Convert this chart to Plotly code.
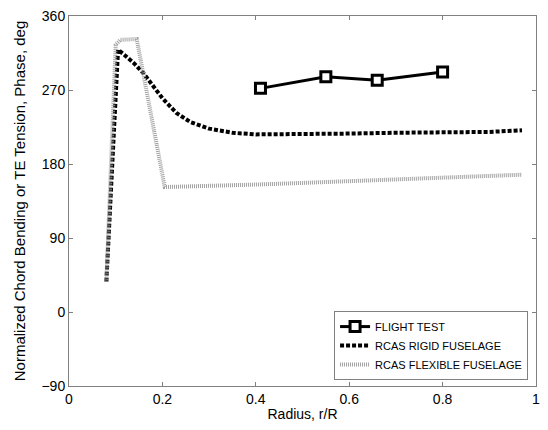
import plotly.graph_objects as go

# Data
flight_r = [0.41, 0.55, 0.66, 0.80]
flight_phase = [272, 286, 282, 292]

rigid_r = [0.08, 0.105, 0.12, 0.14, 0.16, 0.18, 0.20, 0.23, 0.26, 0.30, 0.35, 0.40, 0.45, 0.50, 0.60, 0.70, 0.80, 0.90, 0.97]
rigid_phase = [37, 319, 312, 302, 290, 275, 260, 242, 231, 223, 218, 216, 216, 216, 217, 218, 218, 219, 221]

flex_r = [0.08, 0.10, 0.11, 0.145, 0.205, 0.30, 0.40, 0.50, 0.60, 0.70, 0.80, 0.90, 0.97]
flex_phase = [37, 325, 331, 332, 152, 153, 155, 157, 159, 161, 163, 165, 167]

x_ticks = [0, 0.2, 0.4, 0.6, 0.8, 1]
x_labels = ["0", "0.2", "0.4", "0.6", "0.8", "1"]
y_ticks = [-90, 0, 90, 180, 270, 360]

FONT = "Liberation Sans, Arial"

fig = go.Figure()
fig.add_trace(go.Scatter(
    x=flight_r, y=flight_phase, mode="lines+markers", name="FLIGHT TEST",
    line=dict(color="black", width=3),
    marker=dict(symbol="square", size=10, color="white", line=dict(color="black", width=3)),
))
fig.add_trace(go.Scatter(
    x=rigid_r, y=rigid_phase, mode="lines", name="RCAS RIGID FUSELAGE",
    line=dict(color="black", width=4, dash="4px,2px"),
))
fig.add_trace(go.Scatter(
    x=flex_r, y=flex_phase, mode="lines", name="RCAS FLEXIBLE FUSELAGE",
    line=dict(color="#a0a0a0", width=4, dash="1px,1px"),
))

axis_common = dict(
    showgrid=False, zeroline=False, showline=True, linecolor="#808080", linewidth=1,
    mirror="ticks", ticks="inside", ticklen=4, tickcolor="#808080",
    tickfont=dict(family=FONT, size=14, color="black"),
)
fig.update_xaxes(range=[0, 1], tickvals=x_ticks, ticktext=x_labels,
                 title=dict(text="Radius, r/R", font=dict(family=FONT, size=14, color="black"), standoff=3),
                 **axis_common)
fig.update_yaxes(range=[-90, 360], tickvals=y_ticks,
                 title=dict(text="Normalized Chord Bending or TE Tension, Phase, deg",
                            font=dict(family=FONT, size=15, color="black"), standoff=12),
                 **axis_common)

fig.update_layout(
    width=548, height=430,
    margin=dict(l=69, r=8, t=15, b=44),
    plot_bgcolor="white", paper_bgcolor="white",
    showlegend=True,
    legend=dict(
        x=0.983, y=0.016, xanchor="right", yanchor="bottom",
        bgcolor="white", bordercolor="#808080", borderwidth=1,
        font=dict(family=FONT, size=11, color="black"),
        tracegroupgap=0, itemwidth=30,
    ),
)
fig.write_html("out.html")
